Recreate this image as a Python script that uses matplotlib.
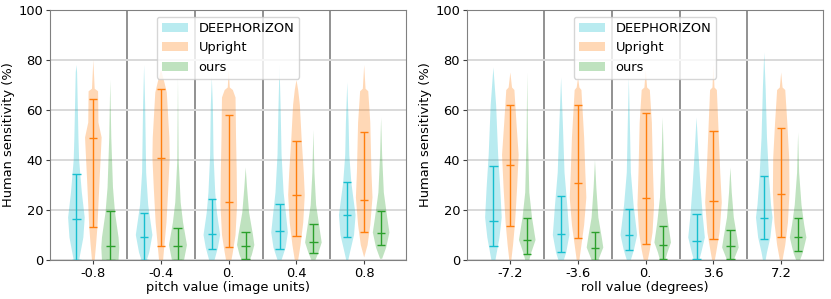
import matplotlib
matplotlib.use("Agg")
import numpy as np
import matplotlib.pyplot as plt
import matplotlib.patches as mpatches

# series names and colours
series = ["DEEPHORIZON", "Upright", "ours"]
colors = ["#17becf", "#ff7f0e", "#2ca02c"]

# ---------------- pitch panel ----------------
pitch_labels = ["-0.8", "-0.4", "0.", "0.4", "0.8"]

# whisker low / median / whisker high
pitch_deep_lo = [0, 0, 4.3, 4.5, 9.1]
pitch_deep_med = [16.4, 9.2, 10.3, 11.5, 17.9]
pitch_deep_hi = [34.4, 18.7, 24.4, 22.5, 31.3]
pitch_up_lo = [13.2, 5.7, 5.1, 9.6, 11.3]
pitch_up_med = [49, 41, 23.2, 26.1, 24]
pitch_up_hi = [64.3, 68.3, 58.1, 47.7, 51.1]
pitch_ours_lo = [0, 0, 0.5, 2.9, 5.9]
pitch_ours_med = [5.7, 5.6, 5.6, 7.3, 10.8]
pitch_ours_hi = [19.5, 13, 11.1, 14.5, 19.5]

# violin outline: sensitivity levels and half widths at those levels
pitch_deep_y = [[0, 5, 9, 17, 27, 40, 49, 62, 75, 78],
                [0, 3, 10, 22, 35, 62, 78],
                [0, 5, 10, 19, 27, 42, 62, 73],
                [0, 5, 11, 17, 27, 42, 62, 78],
                [0, 3, 10, 18, 31, 42, 55, 71]]
pitch_deep_w = [[.16, .3, .41, .49, .32, .16, .12, .08, .04, 0],
                [.16, .3, .49, .24, .12, .06, 0],
                [.16, .36, .49, .3, .2, .1, .06, 0],
                [.12, .36, .49, .4, .24, .12, .06, 0],
                [.06, .16, .4, .49, .24, .12, .08, 0]]
pitch_up_y = [[0, 6, 13, 22, 35, 49, 55, 67.5, 68.5, 80],
              [0, 6, 15, 29, 41, 49, 67, 71, 76],
              [0, 3, 10, 22, 35, 49, 65, 68, 69, 76],
              [0, 6, 15, 26, 35, 49, 62, 68, 72],
              [1, 6, 14, 25, 35, 55, 67.5, 68.5, 78]]
pitch_up_w = [[.08, .16, .24, .3, .39, .49, .3, .28, .08, 0],
              [.12, .2, .32, .43, .51, .49, .34, .2, 0],
              [.16, .24, .4, .49, .47, .43, .4, .24, .06, 0],
              [.1, .24, .4, .49, .43, .3, .2, .1, 0],
              [0, .2, .36, .49, .43, .36, .24, .08, 0]]
pitch_ours_y = [[0, 5, 9, 19, 29, 49, 72],
                [0, 6, 15, 23, 40, 73],
                [0, 2, 6, 10, 19, 29, 37],
                [0, 3, 7, 11, 22, 35, 52],
                [0.5, 5, 11, 17, 27, 42, 57]]
pitch_ours_w = [[.49, .53, .49, .28, .16, .06, 0],
                [.36, .53, .3, .16, .04, 0],
                [.24, .36, .51, .43, .2, .08, 0],
                [.12, .3, .49, .4, .16, .06, 0],
                [.06, .3, .49, .36, .16, .06, 0]]

# ---------------- roll panel ----------------
roll_labels = ["-7.2", "-3.6", "0.", "3.6", "7.2"]

roll_deep_lo = [5.5, 3.3, 3.9, 0.4, 8.4]
roll_deep_med = [15.7, 10.4, 10.1, 7.5, 16.9]
roll_deep_hi = [37.6, 25.7, 20.5, 18.3, 33.7]
roll_up_lo = [13.7, 8.8, 6.5, 8.5, 9.3]
roll_up_med = [37.9, 30.8, 24.9, 23.7, 26.5]
roll_up_hi = [61.9, 61.9, 58.9, 51.5, 52.7]
roll_ours_lo = [2.5, 0, 0.5, 0.5, 3.5]
roll_ours_med = [8, 4.8, 5.9, 5.6, 9.3]
roll_ours_hi = [16.8, 11.2, 13.7, 11.9, 16.7]

roll_deep_y = [[0, 3, 9, 17, 29, 42, 62, 77],
               [0, 3, 10, 22, 35, 55, 73],
               [0, 4, 10, 22, 35, 55, 73],
               [0, 3, 9, 18, 29, 42, 57],
               [0, 3, 9, 17, 22, 33, 49, 69, 83]]
roll_deep_w = [[.12, .2, .36, .49, .4, .28, .16, 0],
               [.16, .3, .49, .36, .2, .1, 0],
               [.12, .3, .49, .28, .12, .06, 0],
               [.16, .28, .49, .36, .24, .12, 0],
               [.08, .16, .36, .49, .4, .28, .16, .08, 0]]
roll_up_y = [[0, 6, 15, 29, 42, 55, 68, 69, 75],
             [0, 6, 14, 25, 35, 49, 68, 69, 73],
             [0, 4, 11, 22, 35, 55, 68, 69, 76],
             [0, 3, 11, 23, 35, 55, 68, 69, 78],
             [0, 6, 15, 27, 41, 55, 68, 69, 75]]
roll_up_w = [[.06, .16, .28, .4, .49, .36, .24, .1, 0],
             [.08, .2, .36, .49, .43, .36, .2, .08, 0],
             [.12, .24, .4, .49, .43, .36, .24, .08, 0],
             [.08, .16, .36, .49, .4, .28, .2, .06, 0],
             [.08, .24, .4, .49, .47, .36, .24, .08, 0]]
roll_ours_y = [[0, 3, 8, 17, 27, 49, 75],
               [0, 5, 9, 17, 29, 40],
               [0, 3, 7, 15, 25, 42, 57],
               [0, 5, 9, 17, 27, 37],
               [0, 3, 9, 14, 22, 35, 51]]
roll_ours_w = [[.12, .24, .49, .28, .12, .04, 0],
               [.2, .49, .4, .2, .08, 0],
               [.16, .28, .49, .32, .16, .06, 0],
               [.2, .49, .4, .2, .08, 0],
               [.12, .28, .49, .36, .2, .06, 0]]

FS = 9.4
plt.rcParams["font.size"] = FS


def draw_panel(ax, labels, xlabel, stats):
    # stats: list of (lo, med, hi, ys, ws) per series
    n = len(labels)
    for k, (lo, med, hi, ys, ws) in enumerate(stats):
        vp = []
        for i in range(n):
            vp.append({"coords": np.array(ys[i], float),
                       "vals": np.array(ws[i], float),
                       "mean": med[i], "median": med[i],
                       "min": lo[i], "max": hi[i]})
        pos = [4 * i + (k - 1) for i in range(n)]
        widths = [2 * max(w) for w in ws]
        parts = ax.violin(vp, positions=pos, widths=widths,
                          showmeans=False, showextrema=True, showmedians=True)
        for b in parts["bodies"]:
            b.set_facecolor(colors[k])
            b.set_edgecolor("none")
            b.set_alpha(0.3)
        for key in ["cbars", "cmins", "cmaxes", "cmedians"]:
            parts[key].set_color(colors[k])
            parts[key].set_linewidth(1.0)
    for i in range(n - 1):
        ax.axvline(4 * i + 2, color="#7f7f7f", lw=1.2, zorder=0.5)
    ax.set_xticks([4 * i for i in range(n)])
    ax.set_xticklabels(labels)
    ax.set_xlim(-2.56, 18.47)
    ax.set_ylim(0, 100)
    ax.set_yticks([0, 20, 40, 60, 80, 100])
    ax.yaxis.grid(True, color="#d9d9d9", lw=1.4)
    ax.set_axisbelow(True)
    for s in ax.spines.values():
        s.set_color("#808080")
    ax.tick_params(length=3, color="#404040", labelsize=FS, pad=2)
    ax.set_xlabel(xlabel, fontsize=FS, labelpad=1)
    ax.set_ylabel("Human sensitivity (%)", fontsize=FS, labelpad=2)
    handles = [mpatches.Patch(facecolor=c, alpha=0.3, edgecolor="none") for c in colors]
    ax.legend(handles, series, loc="upper center", fontsize=FS)


fig = plt.figure(figsize=(8.31, 2.99), dpi=100)
ax1 = fig.add_axes([50 / 831, 39 / 299, 356 / 831, 250 / 299])
ax2 = fig.add_axes([467 / 831, 39 / 299, 356 / 831, 250 / 299])

draw_panel(ax1, pitch_labels, "pitch value (image units)", [
    (pitch_deep_lo, pitch_deep_med, pitch_deep_hi, pitch_deep_y, pitch_deep_w),
    (pitch_up_lo, pitch_up_med, pitch_up_hi, pitch_up_y, pitch_up_w),
    (pitch_ours_lo, pitch_ours_med, pitch_ours_hi, pitch_ours_y, pitch_ours_w),
])
draw_panel(ax2, roll_labels, "roll value (degrees)", [
    (roll_deep_lo, roll_deep_med, roll_deep_hi, roll_deep_y, roll_deep_w),
    (roll_up_lo, roll_up_med, roll_up_hi, roll_up_y, roll_up_w),
    (roll_ours_lo, roll_ours_med, roll_ours_hi, roll_ours_y, roll_ours_w),
])

fig.savefig("out.png", dpi=100)
